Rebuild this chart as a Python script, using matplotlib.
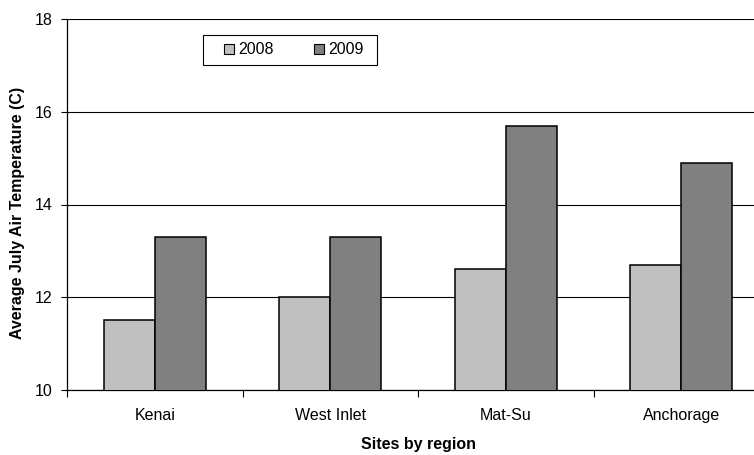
import matplotlib
matplotlib.use("Agg")
import matplotlib.pyplot as plt
from matplotlib.patches import Rectangle, Patch
import numpy as np

categories = ["Kenai", "West Inlet", "Mat-Su", "Anchorage"]
series_names = ["2008", "2009"]
values_2008 = [11.5, 12.0, 12.6, 12.7]
values_2009 = [13.3, 13.3, 15.7, 14.9]
yticks = [10, 12, 14, 16, 18]

plt.rcParams['font.family'] = ['Liberation Sans', 'DejaVu Sans']

W, H = 754, 455
fig = plt.figure(figsize=(W / 100, H / 100), dpi=100)
left_px, right_px, top_px, bot_px = 67, 769, 19, 390
ax = fig.add_axes([left_px / W, 1 - bot_px / H, (right_px - left_px) / W, (bot_px - top_px) / H])

x = np.arange(len(categories))
bw = 0.29
c1, c2 = "#C0C0C0", "#808080"
ax.bar(x - bw / 2, values_2008, bw, color=c1, edgecolor="black", linewidth=1.1, zorder=3)
ax.bar(x + bw / 2, values_2009, bw, color=c2, edgecolor="black", linewidth=1.1, zorder=3)

ax.set_xlim(-0.5, len(categories) - 0.5)
ax.set_ylim(10, 18)
ax.set_yticks(yticks)
ax.set_yticklabels([str(t) for t in yticks], fontsize=11.5)
ax.yaxis.grid(True, color="black", linewidth=0.8, zorder=0)
ax.set_axisbelow(True)

ax.set_xticks(x)
ax.set_xticklabels(categories, fontsize=11.5)
ax.set_xticks(np.arange(-0.5, len(categories), 1.0), minor=True)
ax.tick_params(axis='x', which='major', length=0, pad=13)
ax.tick_params(axis='x', which='minor', length=5, width=0.8, direction='out')
ax.tick_params(axis='y', length=4, width=0.8, direction='out', pad=6.5)

for s in ["top", "right"]:
    ax.spines[s].set_visible(False)
for s in ["left", "bottom"]:
    ax.spines[s].set_linewidth(0.9)
    ax.spines[s].set_color("black")

ax.set_xlabel("Sites by region", fontsize=11.5, fontweight="bold")
ax.xaxis.set_label_coords((418 - left_px) / (right_px - left_px), (bot_px - 444) / (bot_px - top_px))
ax.xaxis.label.set_va("center")
ax.set_ylabel("Average July Air Temperature (C)", fontsize=11.5, fontweight="bold")
ax.yaxis.set_label_coords((18 - left_px) / (right_px - left_px), (bot_px - 213) / (bot_px - top_px))
ax.yaxis.label.set_va("center")

# legend
handles = [Patch(facecolor=c1, edgecolor="black", linewidth=0.8),
           Patch(facecolor=c2, edgecolor="black", linewidth=0.8)]
leg = fig.legend(handles, series_names, loc="center left",
                 bbox_to_anchor=(224 / W, 1 - 50 / H), bbox_transform=fig.transFigure,
                 ncol=2, frameon=False, fontsize=11.5, borderpad=0, borderaxespad=0,
                 handlelength=0.65, handleheight=0.65, handletextpad=0.25,
                 columnspacing=2.5)
fig.add_artist(Rectangle((203 / W, 1 - 65 / H), 174 / W, 30 / H, transform=fig.transFigure,
                         fill=False, edgecolor="black", linewidth=0.8))

fig.savefig("out.png", dpi=100)
